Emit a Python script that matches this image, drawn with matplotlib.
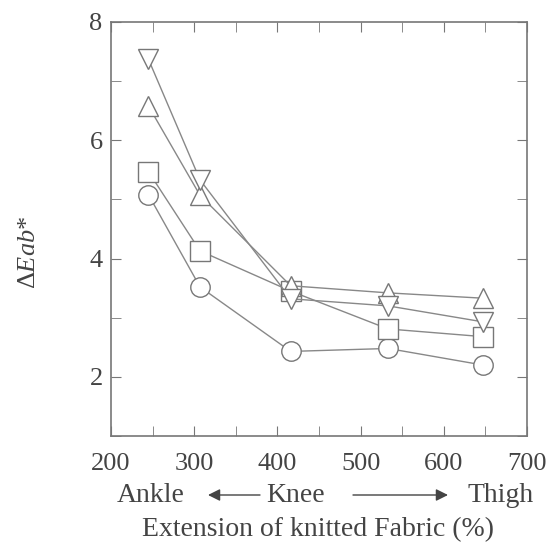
import matplotlib.pyplot as plt
from matplotlib.ticker import MultipleLocator

plt.rcParams["font.family"] = ["Liberation Serif", "DejaVu Serif"]
plt.rcParams["mathtext.fontset"] = "custom"
plt.rcParams["mathtext.rm"] = "Liberation Serif"
plt.rcParams["mathtext.it"] = "Liberation Serif:italic"

# extension (%) at each body position
extension = [245, 307, 416, 533, 647]

# colour difference for each sample
circle = [5.08, 3.52, 2.43, 2.48, 2.20]
square = [5.47, 4.13, 3.45, 2.81, 2.68]
triangle_up = [6.58, 5.07, 3.54, 3.42, 3.33]
triangle_down = [7.37, 5.33, 3.32, 3.20, 2.93]

series = [
    (circle, "o"),
    (square, "s"),
    (triangle_up, "^"),
    (triangle_down, "v"),
]

W, H = 554, 547
fig = plt.figure(figsize=(W / 100, H / 100), dpi=100)
ax = fig.add_axes([111 / W, 1 - 436 / H, 416 / W, 414 / H])

gray = "#777777"
txt = "#444444"
for values, marker in series:
    ax.plot(extension, values, color="#888888", linewidth=1.0,
            marker=marker, markersize=14, markerfacecolor="white",
            markeredgecolor=gray, markeredgewidth=1.0)

ax.set_xlim(200, 700)
ax.set_ylim(1, 8)
ax.xaxis.set_major_locator(MultipleLocator(100))
ax.xaxis.set_minor_locator(MultipleLocator(50))
ax.yaxis.set_major_locator(MultipleLocator(2))
ax.yaxis.set_minor_locator(MultipleLocator(1))
ax.tick_params(which="both", direction="in", top=True, right=True,
               color=gray, labelsize=19, labelcolor=txt, length=7)
ax.tick_params(axis="x", which="both", pad=12)
ax.tick_params(axis="y", which="both", pad=6)
for s in ax.spines.values():
    s.set_color(gray)
    s.set_linewidth(1.2)

fig.text(29 / W, 1 - 252 / H, r"$\Delta$$\mathit{Eab}$*", rotation=90,
         ha="center", va="center", fontsize=19, color=txt)

fig.text(318 / W, 1 - 530 / H, "Extension of knitted Fabric (%)",
         ha="center", va="center", fontsize=20, color=txt)
y_pos = 1 - 495 / H
fig.text(117 / W, y_pos, "Ankle", ha="left", va="center", fontsize=20, color=txt)
fig.text(266 / W, y_pos, "Knee", ha="left", va="center", fontsize=20, color=txt)
fig.text(467 / W, y_pos, "Thigh", ha="left", va="center", fontsize=20, color=txt)
# arrows between the body positions
fig.add_artist(plt.Annotation("", xy=(208 / W, y_pos), xytext=(260 / W, y_pos),
                              xycoords="figure fraction",
                              arrowprops=dict(arrowstyle="-|>", color=txt, lw=1,
                                              mutation_scale=18, shrinkA=0, shrinkB=0)))
fig.add_artist(plt.Annotation("", xy=(448 / W, y_pos), xytext=(353 / W, y_pos),
                              xycoords="figure fraction",
                              arrowprops=dict(arrowstyle="-|>", color=txt, lw=1,
                                              mutation_scale=18, shrinkA=0, shrinkB=0)))

fig.savefig("out.png", dpi=100)
